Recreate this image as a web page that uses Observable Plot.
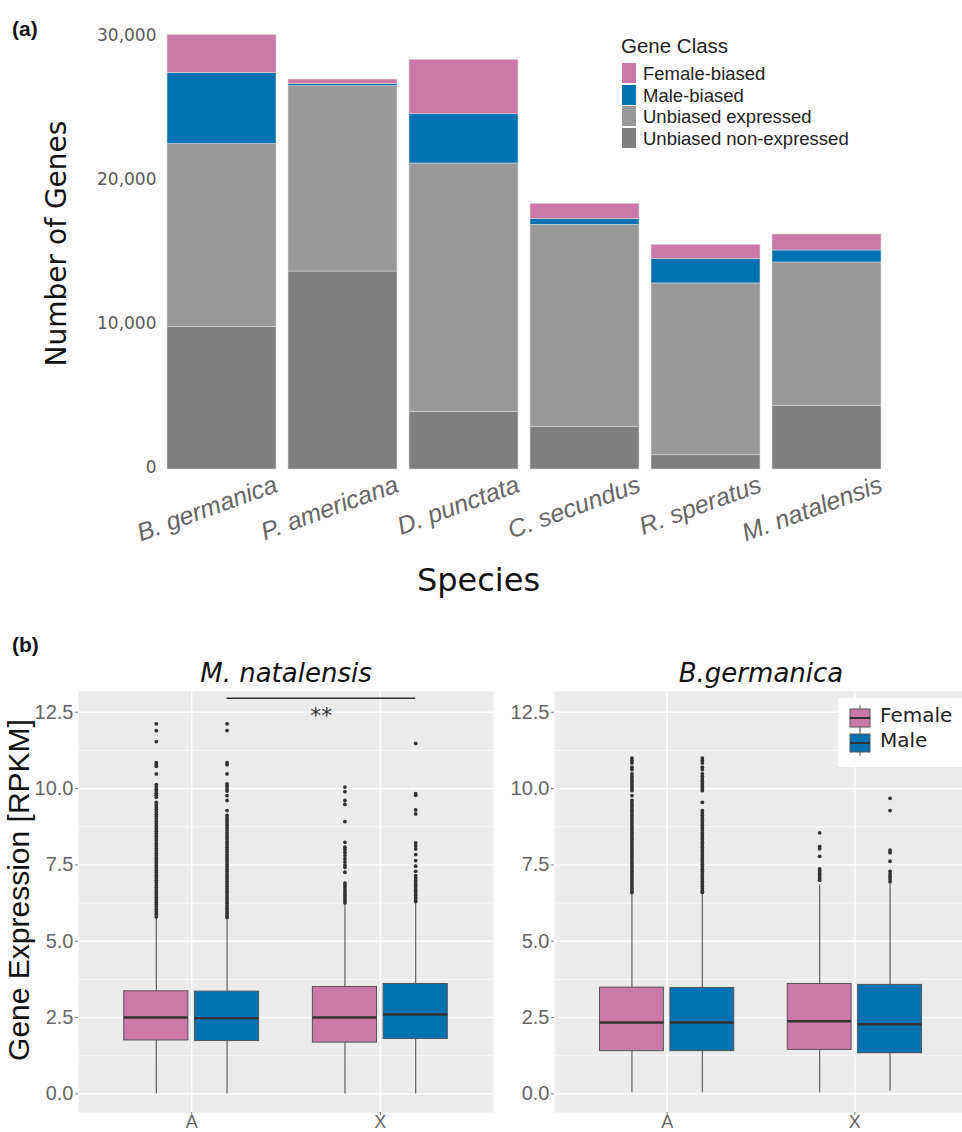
<!DOCTYPE html>
<html>
<head>
<meta charset="utf-8">
<script src="https://cdn.jsdelivr.net/npm/d3@7"></script>
<script src="https://cdn.jsdelivr.net/npm/@observablehq/plot@0.6"></script>
<style>
  body { margin: 0; background: white; }
  #fig { position: relative; width: 962px; height: 1132px; overflow: hidden; background: white; }
  .abs { position: absolute; }
  .plab { font-family: "Liberation Sans", Arial, sans-serif; font-weight: bold; font-size: 21px; color: #111; }
  .leg { font-family: "Liberation Sans", Arial, sans-serif; font-size: 21px; color: #222; line-height: 20px; white-space: nowrap; }
</style>
</head>
<body>
<div id="fig"></div>
<script>
// ---------------- Panel (a) data ----------------
const species = ["B. germanica", "P. americana", "D. punctata", "C. secundus", "R. speratus", "M. natalensis"];
const geneClasses = ["Female-biased", "Male-biased", "Unbiased expressed", "Unbiased non-expressed"];
const classColors = ["#CC79A7", "#0072B2", "#999999", "#7F7F7F"];
const unbiasedNonExpressed = [9900, 13750, 4000, 2940, 990, 4400];
const unbiasedExpressed = [12700, 12870, 17250, 14050, 11930, 9975];
const maleBiased = [4930, 160, 3420, 420, 1710, 835];
const femaleBiased = [2640, 300, 3780, 1040, 970, 1110];
const countTicks = [0, 10000, 20000, 30000];

// ---------------- Panel (b) data ----------------
const chroms = ["A", "X"];
const sexes = ["Female", "Male"];
const sexColors = ["#CC79A7", "#0072B2"];
const exprTicks = [0, 2.5, 5, 7.5, 10, 12.5];
const exprMinorTicks = [1.25, 3.75, 6.25, 8.75, 11.25];
// box stats: [chrom, sex, lowerWhisker, q1, median, q3, upperWhisker]
const mnStats = [
  ["A", "Female", 0.00, 1.75, 2.50, 3.36, 5.76],
  ["A", "Male",   0.00, 1.73, 2.48, 3.35, 5.75],
  ["X", "Female", 0.00, 1.68, 2.50, 3.50, 6.20],
  ["X", "Male",   0.00, 1.80, 2.60, 3.60, 6.25]
];
const bgStats = [
  ["A", "Female", 0.04, 1.40, 2.34, 3.48, 6.55],
  ["A", "Male",   0.04, 1.40, 2.34, 3.47, 6.55],
  ["X", "Female", 0.04, 1.44, 2.38, 3.60, 6.84],
  ["X", "Male",   0.09, 1.33, 2.28, 3.57, 6.88]
];
// outliers
const mnOutAF = [12.12, 11.90, 11.54, 10.85, 10.78, 10.73, 10.48, 10.13, 10.05, 9.98, 9.92, 9.85, 9.78, 9.72, 9.55, 9.48, 9.40, 9.32, 9.24, 9.16, 9.08, 9.00, 8.92, 8.84, 8.76, 8.68, 8.60, 8.52, 8.44, 8.36, 8.28, 8.20, 8.12, 8.04, 7.96, 7.88, 7.80, 7.72, 7.64, 7.56, 7.48, 7.40, 7.32, 7.24, 7.16, 7.08, 7.00, 6.92, 6.84, 6.76, 6.68, 6.60, 6.52, 6.44, 6.36, 6.28, 6.20, 6.12, 6.04, 5.96, 5.88, 5.80];
const mnOutAM = [12.12, 11.90, 10.85, 10.78, 10.48, 10.15, 10.08, 9.99, 9.92, 9.77, 9.61, 9.28, 9.12, 9.04, 8.96, 8.88, 8.80, 8.72, 8.64, 8.56, 8.48, 8.40, 8.32, 8.24, 8.16, 8.08, 8.00, 7.92, 7.84, 7.76, 7.68, 7.60, 7.52, 7.44, 7.36, 7.28, 7.20, 7.12, 7.04, 6.96, 6.88, 6.80, 6.72, 6.64, 6.56, 6.48, 6.40, 6.32, 6.24, 6.16, 6.08, 6.00, 5.92, 5.84, 5.78];
const mnOutXF = [10.05, 9.90, 9.61, 9.48, 8.92, 8.24, 8.08, 8.00, 7.91, 7.80, 7.70, 7.60, 7.50, 7.42, 7.26, 6.90, 6.82, 6.74, 6.66, 6.58, 6.50, 6.42, 6.34, 6.26];
const mnOutXM = [11.48, 9.83, 9.78, 9.30, 9.17, 8.22, 8.12, 8.02, 7.84, 7.64, 7.46, 7.29, 7.15, 7.07, 6.99, 6.91, 6.83, 6.75, 6.67, 6.59, 6.51, 6.43, 6.35, 6.30];
const bgOutAF = [11.00, 10.92, 10.84, 10.70, 10.62, 10.48, 10.40, 10.32, 10.24, 10.16, 10.08, 10.00, 9.93, 9.77, 9.61, 9.53, 9.45, 9.37, 9.29, 9.21, 9.13, 9.05, 8.97, 8.89, 8.81, 8.73, 8.65, 8.57, 8.49, 8.41, 8.33, 8.25, 8.17, 8.09, 8.01, 7.93, 7.85, 7.77, 7.69, 7.61, 7.53, 7.45, 7.37, 7.29, 7.21, 7.13, 7.05, 6.97, 6.89, 6.81, 6.73, 6.65, 6.60];
const bgOutAM = [11.00, 10.92, 10.84, 10.70, 10.62, 10.48, 10.40, 10.32, 10.24, 10.16, 10.08, 10.00, 9.93, 9.55, 9.28, 9.20, 9.12, 9.04, 8.96, 8.88, 8.80, 8.72, 8.64, 8.56, 8.48, 8.40, 8.32, 8.24, 8.16, 8.08, 8.00, 7.92, 7.84, 7.76, 7.68, 7.60, 7.52, 7.44, 7.36, 7.28, 7.20, 7.12, 7.04, 6.96, 6.88, 6.80, 6.72, 6.64, 6.60];
const bgOutXF = [8.55, 8.10, 8.03, 7.78, 7.37, 7.30, 7.22, 7.15, 7.07, 7.00];
const bgOutXM = [9.68, 9.28, 7.98, 7.90, 7.62, 7.29, 7.20, 7.12, 7.04, 6.95];

// ---------------- build panel (a) ----------------
const fig = document.getElementById("fig");
function place(el, left, top) { el.classList.add("abs"); el.style.left = left + "px"; el.style.top = top + "px"; fig.appendChild(el); return el; }
function label(text, left, top, cls, extra) { const d = document.createElement("div"); d.className = cls; d.textContent = text; if (extra) Object.assign(d.style, extra); return place(d, left, top); }

const barRows = [];
species.forEach((s, i) => {
  barRows.push({species: s, cls: "Unbiased non-expressed", count: unbiasedNonExpressed[i]});
  barRows.push({species: s, cls: "Unbiased expressed", count: unbiasedExpressed[i]});
  barRows.push({species: s, cls: "Male-biased", count: maleBiased[i]});
  barRows.push({species: s, cls: "Female-biased", count: femaleBiased[i]});
});

const plotA = Plot.plot({
  width: 962, height: 600,
  marginTop: 37, marginBottom: 131, marginLeft: 154, marginRight: 68,
  style: {background: "transparent", fontFamily: "DejaVu Sans, sans-serif"},
  x: {domain: species, padding: 0.1, axis: null},
  y: {domain: [0, 30000], axis: null},
  color: {domain: geneClasses, range: classColors},
  marks: [
    Plot.barY(barRows, {x: "species", y: "count", fill: "cls", stroke: "#d6d6d6", strokeWidth: 0.6}),
    Plot.axisY({ticks: countTicks, tickFormat: d3.format(","), tickSize: 0, tickPadding: 0, dx: 2, dy: -2,
      fontSize: 17, fill: "#5a5a5a", fontFamily: "DejaVu Sans, sans-serif", label: null}),
    Plot.text(species, {x: d => d, frameAnchor: "bottom", rotate: -20, textAnchor: "end", lineAnchor: "top",
      dx: 51, dy: 5, fontSize: 25, fontStyle: "italic", fill: "#666", fontFamily: "Liberation Sans, Arial, sans-serif"}),
    Plot.text(["Number of Genes"], {frameAnchor: "left", textAnchor: "middle", lineAnchor: "middle", rotate: -90,
      dx: -97, dy: -10, fontSize: 28, fill: "#111", fontFamily: "DejaVu Sans, sans-serif"}),
    Plot.text(["Species"], {frameAnchor: "bottom", textAnchor: "middle", lineAnchor: "middle", dx: -46, dy: 111,
      fontSize: 32, fill: "#111", fontFamily: "DejaVu Sans, sans-serif"})
  ]
});
place(plotA, 0, 0);
label("(a)", 12, 17, "plab");

// legend (a)
const legStep = 21.5;
label("Gene Class", 621, 36, "leg", {fontSize: "20.5px"});
geneClasses.forEach((c, i) => {
  const sw = document.createElement("div");
  sw.style.width = "14px"; sw.style.height = "20px"; sw.style.background = classColors[i];
  place(sw, 622, 63 + i * legStep);
  label(c, 643, 63 + i * legStep, "leg", {fontSize: "18.5px", lineHeight: legStep + "px"});
});

// ---------------- build panel (b) ----------------
const dodge = 0.1875, halfBox = 0.17;
const pos = d => chroms.indexOf(d.chrom) + 1 + (d.sex === "Female" ? -dodge : dodge);
function statRows(stats) {
  return stats.map(([chrom, sex, lo, q1, med, q3, hi]) => ({chrom, sex, lo, q1, med, q3, hi}));
}
function outRows(list) {
  const rows = [];
  list.forEach(([chrom, sex, vals]) => vals.forEach(v => rows.push({chrom, sex, v})));
  return rows;
}

function boxPanel({stats, outliers, title, width, marginLeft, marginRight, signif}) {
  const s = statRows(stats), o = outRows(outliers);
  const marks = [
    Plot.frame({fill: "#EBEBEB", stroke: null}),
    Plot.ruleY(exprMinorTicks, {stroke: "white", strokeWidth: 0.7}),
    Plot.ruleY(exprTicks, {stroke: "white", strokeWidth: 1.4}),
    Plot.ruleX([1, 2], {stroke: "white", strokeWidth: 1.4}),
    Plot.ruleX(s, {x: pos, y1: "lo", y2: "hi", stroke: "#555", strokeWidth: 1.1}),
    Plot.rectY(s, {x1: d => pos(d) - halfBox, x2: d => pos(d) + halfBox, y1: "q1", y2: "q3", fill: "sex", stroke: "#555", strokeWidth: 1}),
    Plot.ruleY(s, {x1: d => pos(d) - halfBox, x2: d => pos(d) + halfBox, y: "med", stroke: "#333", strokeWidth: 2.4}),
    Plot.dot(o, {x: pos, y: "v", r: 1.9, fill: "#333", stroke: null}),
    Plot.axisY({ticks: exprTicks, tickFormat: d3.format(".1f"), tickSize: 3, tickPadding: 2, fontSize: 20,
      stroke: "#777", fill: "#666", fontFamily: "Liberation Sans, Arial, sans-serif", label: null}),
    Plot.axisX({ticks: [1, 2], tickFormat: d => chroms[d - 1], tickSize: 3, tickPadding: 0, fontSize: 18,
      stroke: "#777", fill: "#666", fontFamily: "Liberation Sans, Arial, sans-serif", label: null}),
    Plot.text([title], {frameAnchor: "top", dy: -28, fontSize: 26, fontStyle: "italic", fill: "#111",
      fontFamily: "DejaVu Sans, sans-serif"})
  ];
  if (signif) {
    marks.push(Plot.ruleY([signif], {x1: d => 1 + dodge, x2: d => 2 + dodge, y: d => d.y, stroke: "#333", strokeWidth: 1.6}));
    marks.push(Plot.text([signif], {x: d => 1.5 + dodge, y: d => d.labelY, text: d => d.label, fontSize: 22, fill: "#333",
      fontFamily: "DejaVu Sans, sans-serif"}));
  }
  return Plot.plot({
    width, height: 492,
    marginTop: 51, marginBottom: 20, marginLeft, marginRight,
    style: {background: "transparent"},
    x: {domain: [0.4, 2.6], axis: null},
    y: {domain: [-0.61, 13.18], axis: null},
    color: {domain: sexes, range: sexColors},
    marks
  });
}

const plotB1 = boxPanel({
  stats: mnStats,
  outliers: [["A", "Female", mnOutAF], ["A", "Male", mnOutAM], ["X", "Female", mnOutXF], ["X", "Male", mnOutXM]],
  title: "M. natalensis", width: 500, marginLeft: 78, marginRight: 7,
  signif: {y: 12.96, labelY: 12.39, label: "**"}
});
place(plotB1, 0, 640);
// y title for panel (b)
const ytitle = document.createElement("div");
ytitle.textContent = "Gene Expression [RPKM]";
Object.assign(ytitle.style, {fontFamily: "Liberation Sans, Arial, sans-serif", fontSize: "30px", color: "#111",
  whiteSpace: "nowrap", transform: "translate(-50%, -50%) rotate(-90deg)", lineHeight: "30px"});
place(ytitle, 19, 890);

const plotB2 = boxPanel({
  stats: bgStats,
  outliers: [["A", "Female", bgOutAF], ["A", "Male", bgOutAM], ["X", "Female", bgOutXF], ["X", "Male", bgOutXM]],
  title: "B.germanica", width: 487, marginLeft: 74, marginRight: 0
});
place(plotB2, 480, 640);
label("(b)", 12, 633, "plab");

// legend (b)
const legBox = document.createElement("div");
Object.assign(legBox.style, {width: "130px", height: "69px", background: "white"});
place(legBox, 838, 698);
sexes.forEach((s, i) => {
  const ns = "http://www.w3.org/2000/svg";
  const svg = document.createElementNS(ns, "svg");
  svg.setAttribute("width", 22); svg.setAttribute("height", 26);
  const mk = (tag, attrs) => { const e = document.createElementNS(ns, tag); for (const k in attrs) e.setAttribute(k, attrs[k]); svg.appendChild(e); };
  mk("line", {x1: 11, x2: 11, y1: 0, y2: 26, stroke: "#555", "stroke-width": 1});
  mk("rect", {x: 1, y: 4, width: 20, height: 18, fill: sexColors[i], stroke: "#555", "stroke-width": 1});
  mk("line", {x1: 1, x2: 21, y1: 13, y2: 13, stroke: "#333", "stroke-width": 2});
  svg.style.position = "absolute"; svg.style.left = "849px"; svg.style.top = (705 + i * 25) + "px";
  fig.appendChild(svg);
  label(s, 880, 703 + i * 25, "leg", {fontFamily: "DejaVu Sans, sans-serif", fontSize: "20px", lineHeight: "24px"});
});
</script>
</body>
</html>
